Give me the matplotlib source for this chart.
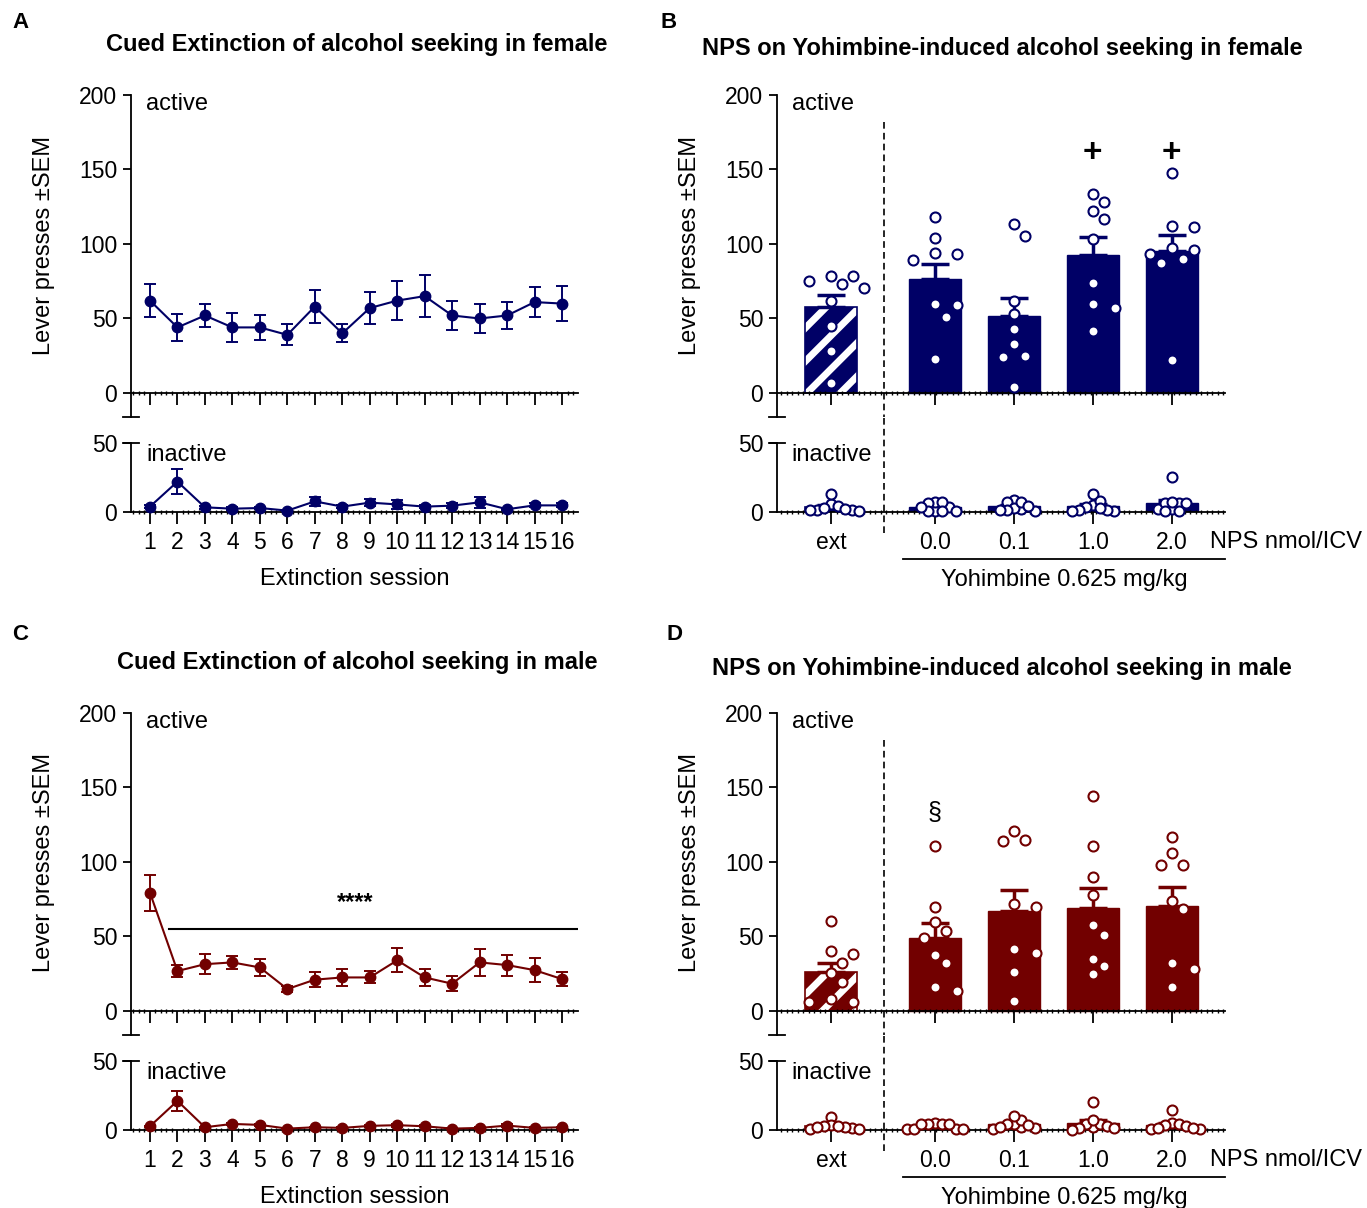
"""Extinction and NPS/yohimbine reinstatement figure (female / male)."""

import numpy as np
import matplotlib

matplotlib.use("Agg")
import matplotlib.pyplot as plt
from matplotlib.ticker import MultipleLocator

plt.rcParams["font.family"] = ["Liberation Sans", "DejaVu Sans"]
plt.rcParams["hatch.linewidth"] = 5

NAVY = "#000066"
MAROON = "#720000"

# ---- extinction sessions (mean, SEM) ----
sessions = list(range(1, 17))
fem_act_mean = [62, 44, 52, 44, 44, 39, 58, 40, 57, 62, 65, 52, 50, 52, 61, 60]
fem_act_sem = [11, 9, 8, 10, 8.5, 7, 11, 6, 11, 13, 14, 10, 10, 9, 10, 11.5]
fem_inact_mean = [3.9, 22, 3.4, 2.4, 2.9, 1, 7.7, 3.9, 6.8, 5.5, 3.9, 4.6, 7, 2, 4.8, 4.8]
fem_inact_sem = [1, 9, 1, 1, 1, 0.5, 3, 1, 2.5, 3, 1, 2, 4, 0.5, 1.5, 1.5]

male_act_mean = [79.4, 26.8, 31.4, 32.6, 29.2, 14.7, 21, 22.5, 22.5, 34, 22.5, 18.3, 32.6, 30.8, 27.4, 21.4]
male_act_sem = [12, 4, 6.5, 4.5, 5.5, 2, 5, 5.5, 4, 8, 6, 5, 9, 7, 8, 4.5]
male_inact_mean = [2.7, 21.1, 2, 4.4, 3.7, 1, 2, 1.5, 3, 3.5, 2.7, 1, 1.5, 3.2, 1.5, 2]
male_inact_sem = [0.5, 7, 0.5, 1, 1, 0.3, 0.5, 0.5, 0.8, 1, 0.8, 0.3, 0.5, 0.8, 0.5, 0.5]

# ---- yohimbine test, individual animals ----
groups = ["ext", "0.0", "0.1", "1.0", "2.0"]

fem_act = [
    [75, 78.5, 70.7, 73.2, 78.5, 61.5, 45.2, 28.2, 6.5],
    [118.1, 104.2, 89.3, 93.7, 93.1, 59.1, 59.7, 51, 22.8],
    [113.4, 105.2, 62, 53, 43, 33.1, 24.8, 23.9, 3.8],
    [133.3, 128.2, 121.9, 117, 103.2, 73.6, 59.9, 56.8, 41.8],
    [147.4, 112.3, 111.2, 97.5, 96, 93.3, 90.1, 87, 22.1],
]
fem_inact = [
    [1.5, 5.8, 1.5, 13, 4.3, 1, 2.7, 1.5, 1.9],
    [1, 7.5, 3.4, 7.5, 1, 6.3, 1, 3.4, 1],
    [8.7, 1.9, 6.9, 2.7, 7.5, 1, 4.3, 1.5, 1.5],
    [1, 13, 5, 1.5, 3.9, 8.2, 1.5, 2.7, 1],
    [1.9, 6.3, 1.9, 25.6, 6.3, 7.5, 1, 6.3, 0.5],
]
male_act = [
    [60.7, 38.3, 40.1, 31.9, 25.2, 19.2, 6.2, 8, 6.2],
    [111, 69.8, 59.7, 53.7, 49.3, 37.7, 31.9, 15.8, 13.2],
    [121.1, 113.9, 115, 69.8, 71.8, 39, 41.7, 25.9, 6.9],
    [144, 111, 89.8, 78, 57.7, 50.8, 34.8, 29.9, 25],
    [116.8, 106.1, 97.9, 97.9, 73.8, 68.2, 31.9, 28.1, 15.8],
]
male_inact = [
    [9.6, 1.5, 3.9, 2, 2.7, 0.5, 2.7, 1, 2],
    [1, 5.1, 4.4, 4.4, 0.5, 4.4, 1, 4.4, 1],
    [2, 4.4, 1.5, 4.4, 1, 7.6, 10.5, 3.9, 2],
    [2, 4.4, 4.4, 20.3, 1.5, 7.1, 0.3, 2.7, 1.5],
    [0.5, 5.1, 3.9, 14.5, 0.5, 4.4, 2.7, 1.5, 1.5],
]

W, H = 1367, 1208
fig = plt.figure(figsize=(W / 100, H / 100), dpi=100)


def frame(left, top, right, bottom):
    return [left / W, 1 - bottom / H, (right - left) / W, (bottom - top) / H]


def setup(ax, ylim, yticks, xlim, minor):
    ax.set_xlim(*xlim)
    ax.set_ylim(*ylim)
    ax.patch.set_visible(False)
    for s in ("top", "right"):
        ax.spines[s].set_visible(False)
    ax.spines["bottom"].set_position(("data", 0))
    ax.spines["left"].set_bounds(ylim[0], ylim[1])
    ax.spines["left"].set_linewidth(1.3)
    ax.spines["bottom"].set_linewidth(1.3)
    ax.set_yticks(yticks)
    ax.xaxis.set_minor_locator(MultipleLocator(minor))
    ax.tick_params(axis="y", direction="out", length=6, width=1.3, labelsize=16.5, pad=4)
    ax.tick_params(axis="x", which="major", direction="out", length=8.5, width=1.3,
                   labelsize=16.5, pad=5)
    ax.tick_params(axis="x", which="minor", direction="inout", length=3.5, width=1)


def cap(ax, y):
    ax.plot([-0.018, 0.018], [y, y], transform=ax.get_yaxis_transform(),
            color="k", lw=1.3, clip_on=False)


def swarm(ax, x0, vals, min_dist, step):
    tr = ax.transData
    px_per_x = tr.transform((1, 0))[0] - tr.transform((0, 0))[0]
    ys = [tr.transform((0, v))[1] for v in vals]
    cands = [0.0]
    for j in range(1, 30):
        cands += [j * step, -j * step]
    placed, offs = [], [0.0] * len(vals)
    for i in sorted(range(len(vals)), key=lambda k: -vals[k]):
        for c in cands:
            if all((c - px) ** 2 + (ys[i] - py) ** 2 >= min_dist ** 2 for px, py in placed):
                break
        placed.append((c, ys[i]))
        offs[i] = c / px_per_x
    return [x0 + o for o in offs]


def line_panel(top, act_mean, act_sem, in_mean, in_sem, color, stars=False):
    y0 = top
    ax = fig.add_axes(frame(131, y0, 578, y0 + 321.8))
    ai = fig.add_axes(frame(131, y0 + 348, 578, y0 + 417))
    for a, ylim, yt in ((ax, (-16, 200), [0, 50, 100, 150, 200]), (ai, (0, 50), [0, 50])):
        setup(a, ylim, yt, (0.31, 16.58), 0.2)
        a.set_xticks(sessions)
        a.errorbar(sessions, act_mean if a is ax else in_mean,
                   yerr=act_sem if a is ax else in_sem, color=color, marker="o", ms=7.5,
                   lw=1.5, elinewidth=1.4, capsize=4, capthick=1.4, clip_on=False, zorder=3)
    ax.tick_params(axis="x", labelbottom=False)
    cap(ax, -16)
    cap(ai, 50)
    ax.text(0.034, 194, "active", transform=ax.get_yaxis_transform(), fontsize=17, va="center")
    ai.text(0.034, 41, "inactive", transform=ai.get_yaxis_transform(), fontsize=17, va="center")
    ai.set_xlabel("Extinction session", fontsize=17, labelpad=10)
    if stars:
        ax.plot([1.7, 16.53], [54.8, 54.8], color="k", lw=1.5)
        ax.text(8.46, 73, "****", fontsize=17, fontweight="bold", ha="center", va="center")
    return ax, ai


def bar_panel(top, act, inact, color, marks):
    y0 = top
    ax = fig.add_axes(frame(777, y0, 1225, y0 + 321.8))
    ai = fig.add_axes(frame(777, y0 + 348, 1225, y0 + 417))
    pos = [0] + [1.316 + i for i in range(len(groups) - 1)]
    for a, data, ylim, yt, md, st in ((ax, act, (-16, 200), [0, 50, 100, 150, 200], 13, 11),
                                      (ai, inact, (0, 50), [0, 50], 7, 7)):
        setup(a, ylim, yt, (-0.684, 4.99), 0.07)
        a.set_xticks(pos)
        a.set_xticklabels(groups)
        for i, vals in enumerate(data):
            m = np.mean(vals)
            se = np.std(vals, ddof=1) / np.sqrt(len(vals))
            if i == 0:
                a.bar(pos[i], m, width=0.66, color=color, edgecolor="white", hatch="/",
                      lw=0, zorder=1)
                a.bar(pos[i], m, width=0.66, fill=False, edgecolor=color, lw=1.2, zorder=1.1)
            else:
                a.bar(pos[i], m, width=0.66, color=color, edgecolor=color, lw=1, zorder=1)
            a.errorbar(pos[i], m, yerr=[[0], [se]], color=color, capsize=10,
                       elinewidth=2.5, capthick=2.5, zorder=1.5)
            xs = swarm(a, pos[i], vals, md, st)
            a.plot(xs, vals, "o", mfc="white", mec=color, ms=7.2, mew=1.5, ls="none",
                   clip_on=False, zorder=4)
    ax.tick_params(axis="x", labelbottom=False)
    cap(ax, -16)
    cap(ai, 50)
    ax.text(0.033, 194, "active", transform=ax.get_yaxis_transform(), fontsize=17, va="center")
    ai.text(0.033, 41, "inactive", transform=ai.get_yaxis_transform(), fontsize=17, va="center")
    # separator between extinction and test
    ax.plot([0.67, 0.67], [182, -16], color="k", lw=1.2, ls=(0, (4, 2.5)), clip_on=False)
    ai.plot([0.67, 0.67], [-15.5, 69], color="k", lw=1.2, ls=(0, (4, 2.5)), clip_on=False)
    ai.text(4.8, -21.5, "NPS nmol/ICV", fontsize=17, va="center", ha="left")
    ai.plot([0.91, 4.99], [-34, -34], color="k", lw=1.3, clip_on=False)
    ai.text(2.96, -49, "Yohimbine 0.625 mg/kg", fontsize=17, ha="center", va="center")
    for idx, sym, yv, fs, bold in marks:
        ax.text(pos[idx], yv, sym, fontsize=fs, ha="center", va="center",
                fontweight="bold" if bold else "normal")
    return ax, ai


line_panel(95, fem_act_mean, fem_act_sem, fem_inact_mean, fem_inact_sem, NAVY)
line_panel(713, male_act_mean, male_act_sem, male_inact_mean, male_inact_sem, MAROON, stars=True)
bar_panel(95, fem_act, fem_inact, NAVY, [(3, "+", 161, 24, True), (4, "+", 161, 24, True)])
bar_panel(713, male_act, male_inact, MAROON, [(1, "§", 133, 18, False)])

for x, y in ((44, 245), (690, 245), (44, 862), (690, 862)):
    fig.text(x / W, 1 - y / H, "Lever presses ±SEM", rotation=90, fontsize=17,
             ha="center", va="center")

titles = [
    (357, 45, "Cued Extinction of alcohol seeking in female"),
    (1002, 49, "NPS on Yohimbine-induced alcohol seeking in female"),
    (357, 662, "Cued Extinction of alcohol seeking in male"),
    (1002, 668, "NPS on Yohimbine-induced alcohol seeking in male"),
]
for x, y, t in titles:
    fig.text(x / W, 1 - y / H, t, fontsize=17, fontweight="bold", ha="center", va="center")

for x, y, t in ((12, 22, "A"), (660, 22, "B"), (12, 634, "C"), (667, 634, "D")):
    fig.text(x / W, 1 - y / H, t, fontsize=16, fontweight="bold", ha="left", va="center")

fig.savefig("out.png", dpi=100)
